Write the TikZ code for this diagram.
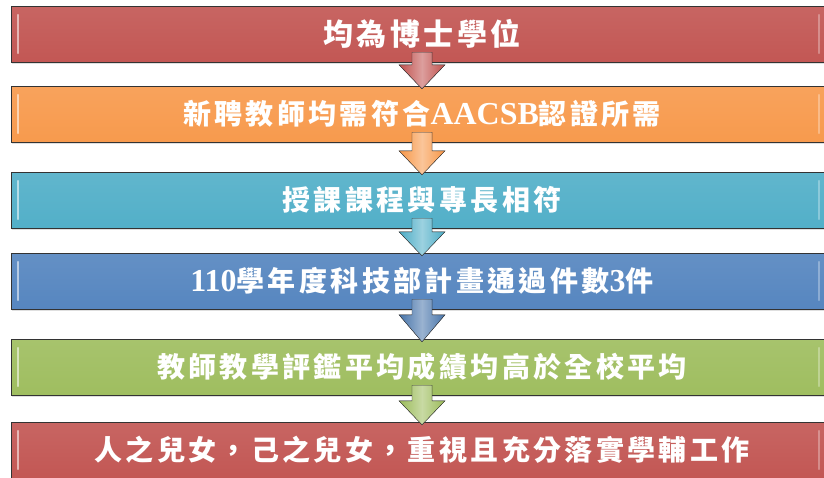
\documentclass[tikz,border=0pt]{standalone}
\usepackage{fontspec}
\newfontfamily\cjk{Noto Sans CJK TC}[LetterSpace=12]
\newfontfamily\lat{Liberation Serif}[Scale=1.14]
\usepackage{tikz}
\usetikzlibrary{calc, shadows}

\definecolor{accred}{HTML}{C0504D}
\definecolor{accorange}{HTML}{F79646}
\definecolor{acccyan}{HTML}{4BACC6}
\definecolor{accblue}{HTML}{4F81BD}
\definecolor{accgreen}{HTML}{9BBB59}

% fat down arrow: [head length]{from}{to}{colour}
\newcommand\flowarrow[4][24]{%
  \filldraw[fatarrow=#4]
    ($(#2.south)+(-10,-10)$) -- ($(#3.north)+(-10,{3-#1})$) -- ($(#3.north)+(-23,{3-#1})$)
    -- ($(#3.north)+(0,3)$) -- ($(#3.north)+(23,{3-#1})$) -- ($(#3.north)+(10,{3-#1})$)
    -- ($(#2.south)+(10,-10)$) -- cycle;
}

\begin{document}
\begin{tikzpicture}[
    x=1pt, y=-1pt,
    font=\cjk\bfseries\fontsize{28}{32}\selectfont,
    box/.style={rectangle, draw=black!80, thin, minimum width=822pt, minimum height=56pt,
      inner sep=0pt, text=white, top color=#1!88!white, middle color=#1, bottom color=#1!96!white,
      drop shadow={shadow xshift=1pt, shadow yshift=-2pt, opacity=0.25}},
    fatarrow/.style={draw=black!80, thin, line join=miter, left color=#1, right color=#1, middle color=#1!55!white},
    gloss/.style={white, opacity=0.55, line width=2pt, line cap=round}
]
\useasboundingbox (0,0) rectangle (824,477);

% Bars (top to bottom)
\node[box=accred] (degree) at (422,34) {\fontsize{30}{34}\selectfont 均為博士學位};
\node[box=accorange] (aacsb) at (422,114) {新聘教師均需符合{\lat AACSB}認證所需};
\node[box=acccyan] (courses) at (422,200) {授課課程與專長相符};
\node[box=accblue] (most) at (422,281) {{\lat 110}學年度科技部計畫通過件數{\lat 3}件};
\node[box=accgreen] (teaching) at (422,367) {教師教學評鑑平均成績均高於全校平均};
\node[box=accred] (tutoring) at (422,450) {人之兒女，己之兒女，重視且充分落實學輔工作};

% glossy edges
\foreach \n in {degree, aacsb, courses, most, teaching, tutoring} {
  \draw[gloss] ($(\n.north west)+(7,9)$) -- ($(\n.south west)+(7,-9)$);
  \draw[gloss, opacity=0.3] ($(\n.north east)+(-14,9)$) -- ($(\n.south east)+(-14,-9)$);
}

% Arrows between bars
\flowarrow{degree}{aacsb}{accred}
\flowarrow{aacsb}{courses}{accorange}
\flowarrow{courses}{most}{acccyan}
\flowarrow[27]{most}{teaching}{accblue!90!black}
\flowarrow{teaching}{tutoring}{accgreen}

\end{tikzpicture}
\end{document}
